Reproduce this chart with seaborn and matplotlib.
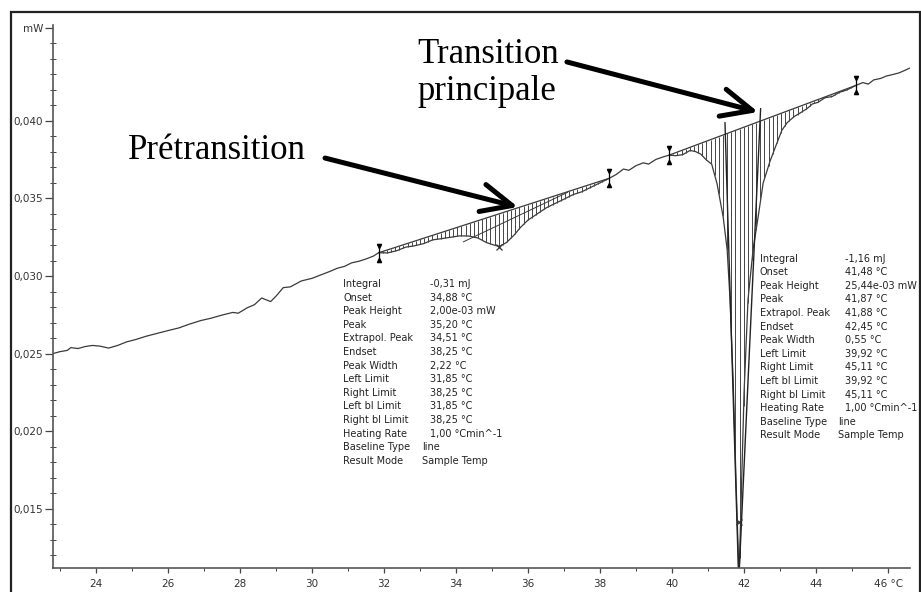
import numpy as np
import pandas as pd
import matplotlib
matplotlib.use("Agg")
import matplotlib.pyplot as plt
from matplotlib.patches import Rectangle
from matplotlib.ticker import FixedLocator, FixedFormatter
import seaborn as sns

# courbe DSC (temperature en degC, flux en mW)
temp = [22.81, 23.0, 23.2, 23.3, 23.5, 23.7, 23.9, 24.1, 24.35, 24.6, 24.85, 25.1, 25.4,
        25.7, 26.0, 26.3, 26.6, 26.9, 27.2, 27.5, 27.8, 27.95, 28.2, 28.4, 28.6, 28.85,
        29.0, 29.2, 29.4, 29.7, 30.0, 30.3, 30.5, 30.7, 30.9, 31.1, 31.3, 31.5, 31.7, 31.85,
        32.1, 32.35, 32.6, 32.85, 33.1, 33.35, 33.6, 33.85, 34.1, 34.35, 34.6, 34.85, 35.05,
        35.2, 35.4, 35.6, 35.8, 36.0, 36.25, 36.5, 36.75, 37.0, 37.25, 37.5, 37.75, 38.0,
        38.25, 38.45, 38.65, 38.8, 39.0, 39.2, 39.35, 39.55, 39.75, 39.92, 40.1, 40.3, 40.5,
        40.65, 40.8, 40.95, 41.1, 41.25, 41.42, 41.53, 41.61, 41.70, 41.78, 41.86, 41.93,
        42.0, 42.11, 42.25, 42.39, 42.53, 42.72, 42.9, 43.05, 43.2, 43.4, 43.56, 43.75, 43.9,
        44.05, 44.25, 44.45, 44.65, 44.85, 45.11, 45.3, 45.45, 45.6, 45.8, 45.95, 46.1, 46.3,
        46.45, 46.61]
heat_flow = [0.02500, 0.02512, 0.02520, 0.02538, 0.02532, 0.02545, 0.02552, 0.02548, 0.02535,
             0.02552, 0.02575, 0.02590, 0.02612, 0.02630, 0.02648, 0.02665, 0.02690, 0.02712,
             0.02728, 0.02748, 0.02765, 0.02760, 0.02795, 0.02815, 0.02858, 0.02835, 0.02870,
             0.02925, 0.02930, 0.02968, 0.02985, 0.03012, 0.03030, 0.03050, 0.03062, 0.03085,
             0.03095, 0.03110, 0.03128, 0.03150,
             0.03149, 0.03163, 0.03186, 0.03195, 0.03209, 0.03233, 0.03241, 0.03250, 0.03259,
             0.03258, 0.03246, 0.03215, 0.03200, 0.03190, 0.03216, 0.03261, 0.03316, 0.03361,
             0.03400, 0.03439, 0.03468, 0.03496, 0.03525, 0.03544, 0.03573, 0.03601, 0.03630,
             0.03655, 0.03690, 0.03682, 0.03712, 0.03730, 0.03722, 0.03752, 0.03768, 0.03780,
             0.03776, 0.03783, 0.03810, 0.03803, 0.03786, 0.03749, 0.03722, 0.03595, 0.03380,
             0.03170, 0.02850, 0.02300, 0.01650, 0.01050, 0.01650, 0.02250, 0.02850, 0.03170,
             0.03380, 0.03600, 0.03740, 0.03850, 0.03940, 0.03990, 0.04030, 0.04052, 0.04080,
             0.04110, 0.04120, 0.04150, 0.04158, 0.04185, 0.04200, 0.04230,
             0.04248, 0.04238, 0.04265, 0.04275, 0.04290, 0.04298, 0.04310, 0.04325, 0.04342]

# limites d'integration (ligne de base)
pre_limits = [31.85, 38.25]
pre_base = [0.03150, 0.03630]
main_limits = [39.92, 45.11]
main_base = [0.03780, 0.04230]

# pics marques (x)
peak_x = [35.20, 41.85]
peak_y = [0.03190, 0.01410]

# tangentes onset / endset
pre_tangent_x = [34.2, 37.1]
pre_tangent_y = [0.0322, 0.0354]
onset_x = [41.47, 41.84]
onset_y = [0.0399, 0.0112]
endset_x = [42.46, 41.87]
endset_y = [0.0408, 0.0112]

row_labels = ["Integral", "Onset", "Peak Height", "Peak", "Extrapol. Peak", "Endset",
              "Peak Width", "Left Limit", "Right Limit", "Left bl Limit", "Right bl Limit",
              "Heating Rate", "Baseline Type", "Result Mode"]
pre_values = ["-0,31 mJ", "34,88 °C", "2,00e-03 mW", "35,20 °C", "34,51 °C", "38,25 °C",
              "2,22 °C", "31,85 °C", "38,25 °C", "31,85 °C", "38,25 °C", "1,00 °Cmin^-1",
              "line", "Sample Temp"]
main_values = ["-1,16 mJ", "41,48 °C", "25,44e-03 mW", "41,87 °C", "41,88 °C", "42,45 °C",
               "0,55 °C", "39,92 °C", "45,11 °C", "39,92 °C", "45,11 °C", "1,00 °Cmin^-1",
               "line", "Sample Temp"]

x_ticks = [24, 26, 28, 30, 32, 34, 36, 38, 40, 42, 44, 46]
x_labels = ["24", "26", "28", "30", "32", "34", "36", "38", "40", "42", "44", "46 °C"]
y_ticks = [0.015, 0.020, 0.025, 0.030, 0.035, 0.040, 0.046]
y_labels = ["0,015", "0,020", "0,025", "0,030", "0,035", "0,040", "mW"]

df = pd.DataFrame({"T": temp, "P": heat_flow})

sns.set_style("ticks")
plt.rcParams["font.family"] = ["DejaVu Sans"]

fig = plt.figure(figsize=(9.21, 5.92), dpi=100)
ax = fig.add_axes([0.0576, 0.0410, 0.9305, 0.9167])

line_col = "#3a3a3a"
sns.lineplot(data=df, x="T", y="P", ax=ax, color=line_col, lw=0.9, sort=False)

# hachures entre ligne de base et courbe
for lims, base in [(pre_limits, pre_base), (main_limits, main_base)]:
    xs = np.arange(lims[0], lims[1], 0.115)
    b = np.interp(xs, lims, base)
    c = np.interp(xs, temp, heat_flow)
    ax.vlines(xs, c, b, color="#444444", lw=0.7)
    ax.plot(lims, base, color=line_col, lw=0.9)
    for xl, yl in zip(lims, base):
        ax.plot([xl, xl], [yl - 0.0005, yl + 0.0005], color="black", lw=0.9)
        ax.plot([xl], [yl + 0.00045], marker="v", ms=3, color="black")
        ax.plot([xl], [yl - 0.00045], marker="^", ms=3, color="black")

ax.plot(pre_tangent_x, pre_tangent_y, color=line_col, lw=0.7)
ax.plot(onset_x, onset_y, color="#222222", lw=1.0)
ax.plot(endset_x, endset_y, color="#222222", lw=1.0)
ax.plot(peak_x, peak_y, ls="none", marker="x", ms=5, mew=0.9, color="#333333")

# tableaux de resultats
def results(x_lab, x_val, x_short, y0, values):
    step = 0.000877
    for i, (lab, val) in enumerate(zip(row_labels, values)):
        y = y0 - i * step
        ax.text(x_lab, y, lab, fontsize=7, color="#222222", va="center", ha="left")
        xv = x_short if val in ("line", "Sample Temp") else x_val
        ax.text(xv, y, val, fontsize=7, color="#222222", va="center", ha="left", clip_on=False)

results(30.86, 33.28, 33.06, 0.02948, pre_values)
results(42.44, 44.81, 44.61, 0.03112, main_values)

# fleches et titres
arrow = dict(arrowstyle="->, head_length=1.1, head_width=0.5", lw=3.6, color="black",
             mutation_scale=20, shrinkA=0, shrinkB=0)
ax.annotate("", xy=(35.72, 0.03445), xytext=(30.36, 0.03761), arrowprops=arrow)
ax.annotate("", xy=(42.39, 0.04058), xytext=(37.08, 0.04381), arrowprops=arrow)
serif = ["Liberation Serif", "DejaVu Serif"]
ax.text(24.89, 0.03755, "Prétransition", fontsize=25, family=serif, color="black",
        va="baseline", ha="left")
ax.text(32.92, 0.04374, "Transition", fontsize=25, family=serif, color="black",
        va="baseline", ha="left", clip_on=False)
ax.text(32.92, 0.04135, "principale", fontsize=25, family=serif, color="black",
        va="baseline", ha="left")

ax.set_xlim(22.806, 46.61)
ax.set_ylim(0.01118, 0.04619)
ax.xaxis.set_major_locator(FixedLocator(x_ticks))
ax.xaxis.set_major_formatter(FixedFormatter(x_labels))
ax.xaxis.set_minor_locator(FixedLocator(np.arange(23, 47, 2)))
ax.yaxis.set_major_locator(FixedLocator(y_ticks))
ax.yaxis.set_major_formatter(FixedFormatter(y_labels))
ax.yaxis.set_minor_locator(FixedLocator(np.arange(0.012, 0.046, 0.001)))
ax.tick_params(axis="both", labelsize=7.5, colors="#444444", labelcolor="#333333", width=0.9)
ax.tick_params(axis="x", which="major", direction="out", length=3.6, pad=4.5)
ax.tick_params(axis="x", which="minor", direction="out", length=2.5)
ax.tick_params(axis="y", which="major", direction="out", length=5.5, pad=1.5)
ax.tick_params(axis="y", which="minor", direction="inout", length=5)
ax.set_xlabel("")
ax.set_ylabel("")
sns.despine(ax=ax)
for s in ["left", "bottom"]:
    ax.spines[s].set_color("#555555")
    ax.spines[s].set_linewidth(1.2)

# cadre autour de la figure
fig.patches.append(Rectangle((11 / 921, -0.05), 908.5 / 921, 1.05 - 12 / 592,
                             transform=fig.transFigure, fill=False, lw=1.6,
                             edgecolor="#222222"))

fig.savefig("out.png", dpi=100)
